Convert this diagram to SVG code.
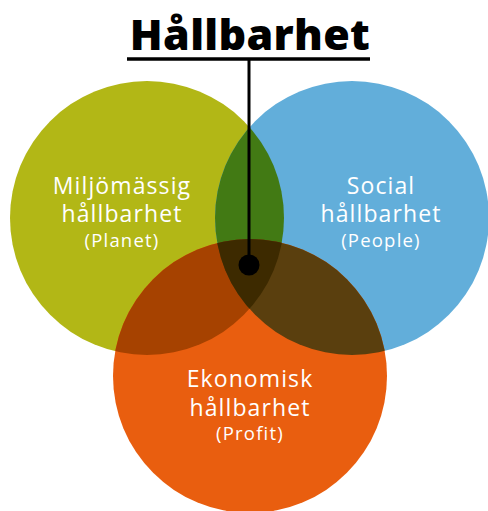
<svg xmlns="http://www.w3.org/2000/svg" width="488" height="511" viewBox="0 0 488 511">
<style>
.lbl{font-family:"Open Sans","Liberation Sans",sans-serif;fill:#ffffff;text-anchor:middle}
.big{font-size:23px;letter-spacing:1.1px}
.small{font-size:18.5px;letter-spacing:1.2px}
.title{font-family:"Open Sans","Liberation Sans",sans-serif;font-weight:800;font-size:43px;letter-spacing:0.3px;fill:#000;text-anchor:middle}
</style>
<defs>
<clipPath id="cL"><circle cx="147" cy="218" r="137"/></clipPath>
<clipPath id="cR"><circle cx="352" cy="218" r="137"/></clipPath>
<clipPath id="cB"><circle cx="250" cy="376" r="137"/></clipPath>
</defs>
<rect width="488" height="511" fill="#fff"/>
<g id="planet">
<circle cx="147" cy="218" r="137" fill="#B2B716"/>
</g>
<g id="people">
<circle cx="352" cy="218" r="137" fill="#62AEDA"/>
</g>
<g id="profit">
<circle cx="250" cy="376" r="137" fill="#E95E0F"/>
</g>
<g id="overlaps">
<g clip-path="url(#cL)"><circle cx="352" cy="218" r="137" fill="#427A14"/></g>
<g clip-path="url(#cL)"><circle cx="250" cy="376" r="137" fill="#A64200"/></g>
<g clip-path="url(#cR)"><circle cx="250" cy="376" r="137" fill="#5A3F0E"/></g>
<g clip-path="url(#cL)"><g clip-path="url(#cR)"><circle cx="250" cy="376" r="137" fill="#3D2A00"/></g></g>
</g>
<g id="labels">
<text class="lbl big" x="122" y="194">Miljömässig</text>
<text class="lbl big" x="122" y="222">hållbarhet</text>
<text class="lbl small" x="122" y="247">(Planet)</text>
<text class="lbl big" x="381" y="194">Social</text>
<text class="lbl big" x="381" y="222">hållbarhet</text>
<text class="lbl small" x="381" y="247">(People)</text>
<text class="lbl big" x="250" y="387">Ekonomisk</text>
<text class="lbl big" x="250" y="416">hållbarhet</text>
<text class="lbl small" x="250" y="440">(Profit)</text>
</g>
<g id="title">
<text class="title" x="250" y="50">Hållbarhet</text>
</g>
<g id="connectors">
<line x1="127" y1="59" x2="370" y2="59" stroke="#000" stroke-width="3.5"/>
<line x1="249" y1="59" x2="249" y2="262" stroke="#000" stroke-width="3"/>
<circle cx="249" cy="265" r="10.5" fill="#000"/>
</g>
</svg>
